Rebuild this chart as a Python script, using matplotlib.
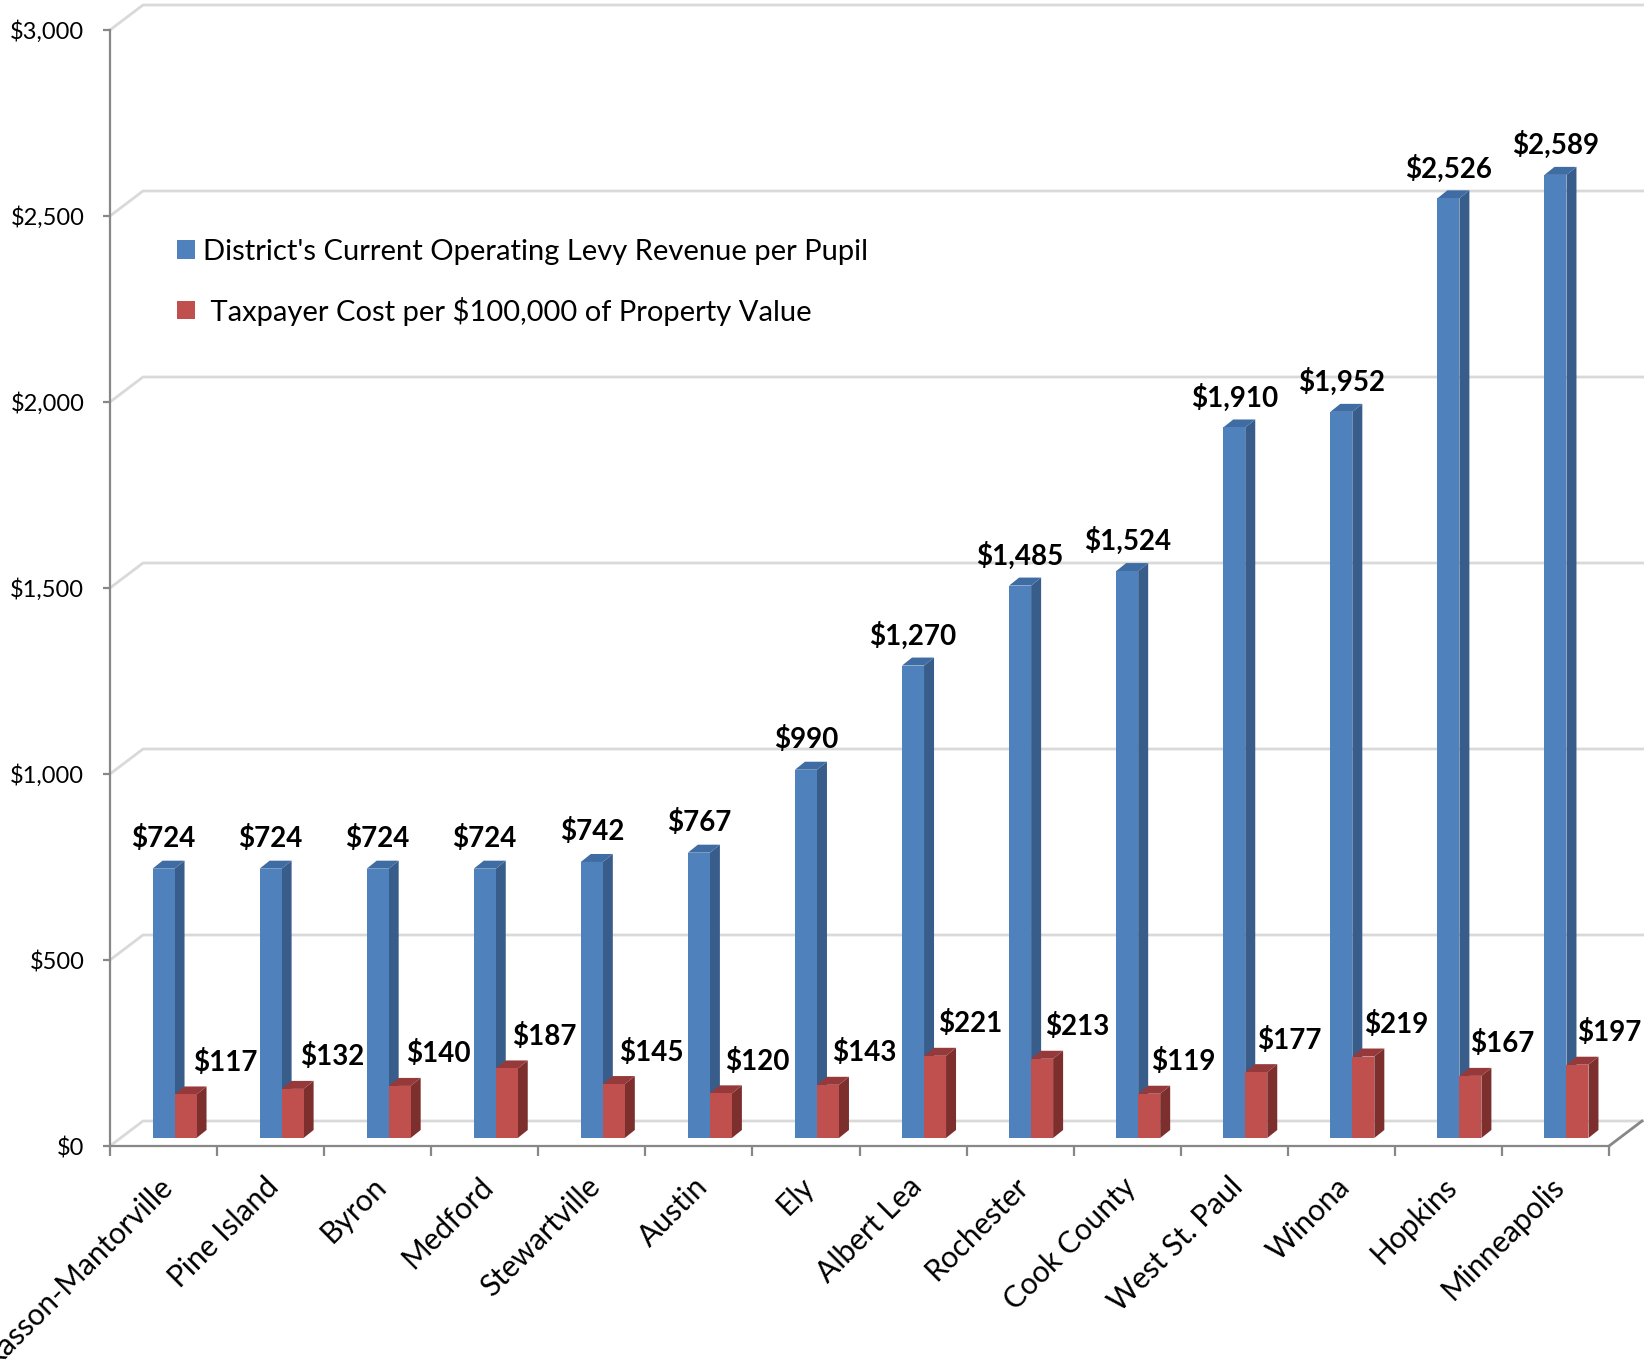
import numpy as np
import matplotlib
matplotlib.use("Agg")
import matplotlib.pyplot as plt
from matplotlib.patches import Polygon, Patch

plt.rcParams['font.family'] = ['Lato', 'DejaVu Sans']

# ---------------- data ----------------
districts = ["Kasson-Mantorville", "Pine Island", "Byron", "Medford", "Stewartville",
             "Austin", "Ely", "Albert Lea", "Rochester", "Cook County",
             "West St. Paul", "Winona", "Hopkins", "Minneapolis"]
levy_per_pupil = [724, 724, 724, 724, 742, 767, 990, 1270, 1485, 1524, 1910, 1952, 2526, 2589]
cost_per_100k = [117, 132, 140, 187, 145, 120, 143, 221, 213, 119, 177, 219, 167, 197]
series_names = ["District's Current Operating Levy Revenue per Pupil",
                " Taxpayer Cost per $100,000 of Property Value"]
yticks = [0, 500, 1000, 1500, 2000, 2500, 3000]

# ---------------- styling ----------------
W, H = 1644, 1364
BLUE, BLUE_SIDE, BLUE_TOP = "#4F81BD", "#385D8A", "#3F6CA3"
RED, RED_SIDE, RED_TOP = "#C0504D", "#7D2F2E", "#96393A"
GRID = "#D9D9D9"
AXIS = "#878787"

fig = plt.figure(figsize=(W / 100, H / 100), dpi=100)
left_px, zero_px, top_px = 110, 1146, 30
n = len(districts)
cat_px = (1609 - left_px) / n
ypx = (zero_px - top_px) / 3000.0   # pixels per value unit

ax = fig.add_axes([left_px / W, (H - zero_px) / H, (W - left_px) / W, zero_px / H])
ax.set_xlim(0, (W - left_px) / cat_px)
ax.set_ylim(0, zero_px / ypx)

def dx(px):
    return px / cat_px

def dy(px):
    return px / ypx

wall_dx, wall_dy = dx(33), dy(25)
shift_dx, base = dx(11), dy(8)
depth_dx, depth_dy = dx(10), dy(8)
bw = dx(22)
xmax = ax.get_xlim()[1]

# back wall gridlines + side wall diagonals
for v in yticks:
    ax.plot([0, wall_dx, xmax], [v, v + wall_dy, v + wall_dy], color=GRID, lw=2,
            zorder=1, clip_on=False, solid_capstyle='butt')
# right floor edge
ax.plot([n, n + wall_dx], [0, wall_dy], color=AXIS, lw=2, zorder=1, clip_on=False)

idx = np.arange(n)
blue_left = idx + (cat_px - 44) / 2 / cat_px + shift_dx
red_left = blue_left + bw

def draw_3d(lefts, vals, front, side, top, z):
    ax.bar(lefts, vals, width=bw, bottom=base, align='edge', color=front,
           edgecolor='none', zorder=z + 1)
    for L, v in zip(lefts, vals):
        t = base + v
        ax.add_patch(Polygon([(L + bw, base), (L + bw + depth_dx, base + depth_dy),
                              (L + bw + depth_dx, t + depth_dy), (L + bw, t)],
                             closed=True, facecolor=side, edgecolor='none', zorder=z))
        ax.add_patch(Polygon([(L, t), (L + depth_dx, t + depth_dy),
                              (L + bw + depth_dx, t + depth_dy), (L + bw, t)],
                             closed=True, facecolor=top, edgecolor='none', zorder=z))

draw_3d(blue_left, levy_per_pupil, BLUE, BLUE_SIDE, BLUE_TOP, 2)
draw_3d(red_left, cost_per_100k, RED, RED_SIDE, RED_TOP, 4)

# value labels
for L, v in zip(blue_left, levy_per_pupil):
    ax.text(L + bw / 2, base + v + dy(30), f"${v:,}", ha='center', va='center',
            fontsize=20, fontweight='bold', color='black', zorder=10)
for i, (L, v) in enumerate(zip(red_left, cost_per_100k)):
    ax.text(L + bw / 2 + dx(40 - 0.65 * i), base + v + dy(32), f"${v:,}",
            ha='center', va='center', fontsize=20, fontweight='bold',
            color='black', zorder=10)

# axes
for s in ['top', 'right']:
    ax.spines[s].set_visible(False)
ax.spines['left'].set_bounds(0, 3000)
ax.spines['bottom'].set_bounds(0, n)
for s in ['left', 'bottom']:
    ax.spines[s].set_color(AXIS)
    ax.spines[s].set_linewidth(1.6)

ax.set_yticks(yticks)
ax.set_yticklabels([f"${v:,}" for v in yticks])
ax.tick_params(axis='y', direction='out', length=5, width=1.6, color=AXIS,
               labelsize=17, pad=13.5)
ax.set_xticks(np.arange(n + 1))
ax.set_xticklabels([])
ax.tick_params(axis='x', which='major', direction='out', length=7, width=1.6, color=AXIS)
ax.set_xticks(idx + 0.5 - dx(6), minor=True)
ax.set_xticklabels(districts, minor=True)
ax.tick_params(axis='x', which='minor', length=0, pad=19, labelsize=21.5)
for lab in ax.get_xticklabels(minor=True):
    lab.set_rotation(45)
    lab.set_ha('right')
    lab.set_va('top')
    lab.set_rotation_mode('anchor')

# legend
handles = [Patch(facecolor=BLUE, edgecolor='none'), Patch(facecolor=RED, edgecolor='none')]
fig.legend(handles, series_names, loc='upper left',
           bbox_to_anchor=(177 / W, 1 - 239 / H), bbox_transform=fig.transFigure,
           frameon=False, fontsize=21, handlelength=0.6, handleheight=0.6,
           handletextpad=0.3, labelspacing=1.08, borderpad=0, borderaxespad=0)

fig.savefig("out.png", dpi=100)
